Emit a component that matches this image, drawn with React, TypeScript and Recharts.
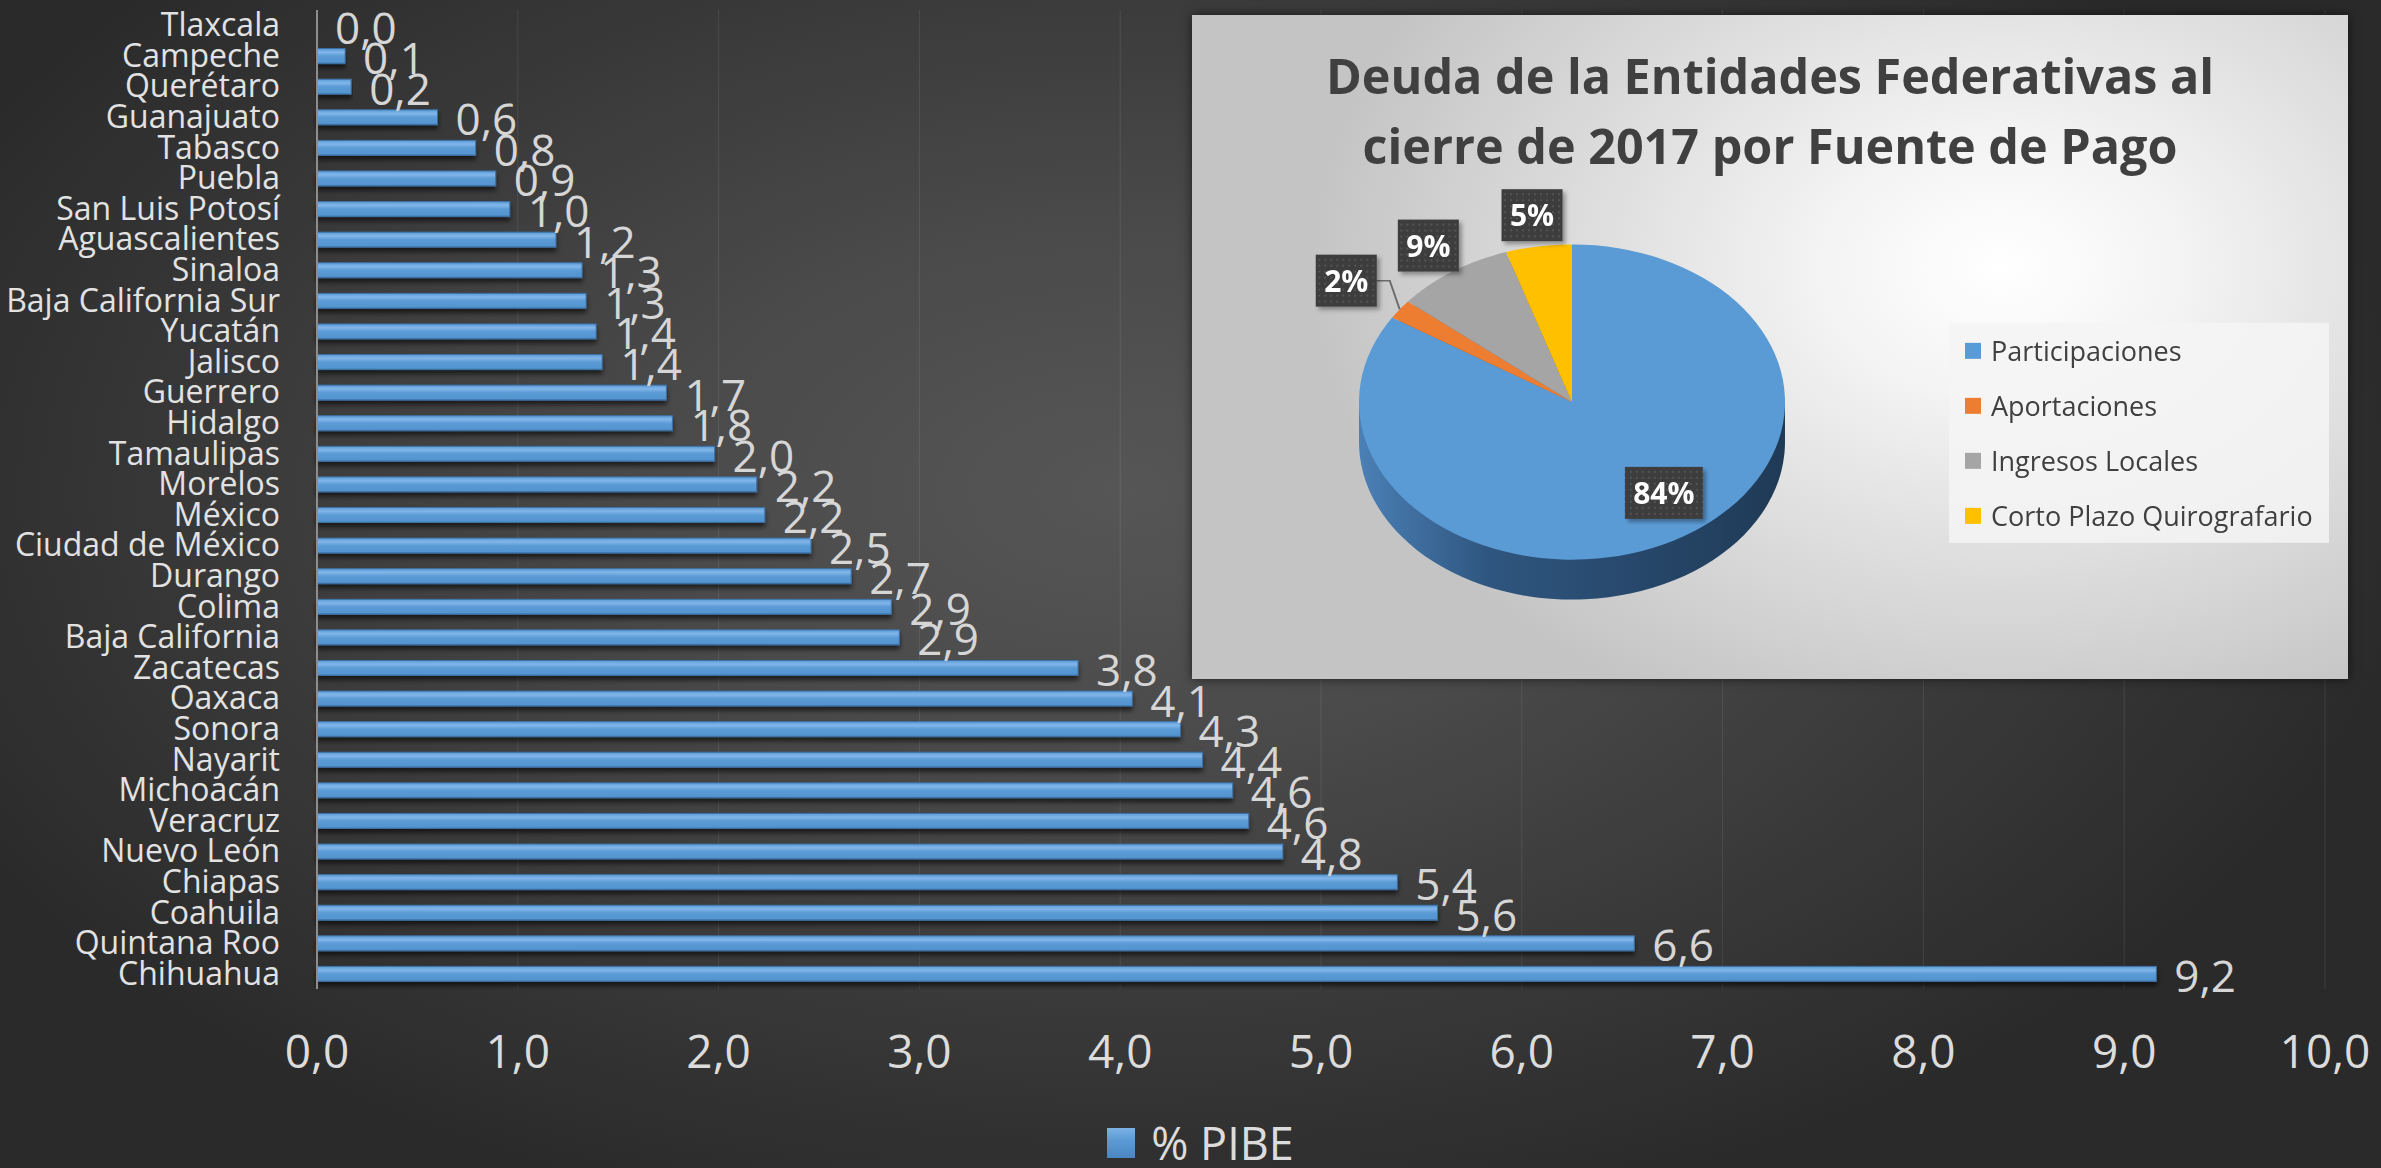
import React from 'react';
import {
  Bar,
  BarChart,
  CartesianGrid,
  Cell,
  LabelList,
  Legend,
  Pie,
  PieChart,
  XAxis,
  YAxis,
} from 'recharts';

// % del PIB estatal, de arriba hacia abajo
const states = [
  'Tlaxcala', 'Campeche', 'Querétaro', 'Guanajuato', 'Tabasco', 'Puebla',
  'San Luis Potosí', 'Aguascalientes', 'Sinaloa', 'Baja California Sur',
  'Yucatán', 'Jalisco', 'Guerrero', 'Hidalgo', 'Tamaulipas', 'Morelos',
  'México', 'Ciudad de México', 'Durango', 'Colima', 'Baja California',
  'Zacatecas', 'Oaxaca', 'Sonora', 'Nayarit', 'Michoacán', 'Veracruz',
  'Nuevo León', 'Chiapas', 'Coahuila', 'Quintana Roo', 'Chihuahua',
];
const pibe = [
  0, 0.14, 0.17, 0.6, 0.79, 0.89, 0.96, 1.19, 1.32, 1.34, 1.39, 1.42,
  1.74, 1.77, 1.98, 2.19, 2.23, 2.46, 2.66, 2.86, 2.9, 3.79, 4.06, 4.3,
  4.41, 4.56, 4.64, 4.81, 5.38, 5.58, 6.56, 9.16,
];
const xTicks = [0, 1, 2, 3, 4, 5, 6, 7, 8, 9, 10];

const sources = ['Participaciones', 'Aportaciones', 'Ingresos Locales', 'Corto Plazo Quirografario'];
const shares = [84, 2, 9, 5];
const sourceColors = ['#5b9bd5', '#ed7d31', '#a5a5a5', '#ffc000'];
const sideColors = ['url(#sideBlue)', '#9c4f1c', '#6b6b6b', '#a67c00'];

const FONT = "'Open Sans', 'Noto Sans', sans-serif";
const TILT = 0.74;
const SIDE_STEPS = [54, 40, 27, 14];

const barData = states.map((s, i) => ({ state: s, pibe: pibe[i] }));
const pieData = sources.map((s, i) => ({ name: s, value: shares[i] }));

const fmt = (v: number) => v.toFixed(1).replace('.', ',');

function YTick({ x, y, payload }: any) {
  return (
    <text x={x} y={y} dy={11} textAnchor="end" fill="#e2e2e2" fontSize={32} fontFamily={FONT}>
      {payload.value}
    </text>
  );
}

function XTick({ x, y, payload }: any) {
  return (
    <text x={x} y={y} dy={79} textAnchor="middle" fill="#dcdcdc" fontSize={46} fontFamily={FONT}>
      {fmt(payload.value)}
    </text>
  );
}

function ValueLabel(props: any) {
  const { x, y, width, height, value } = props;
  return (
    <text x={x + width + 18} y={y + height / 2 + 18} fill="#d6d6d6" fontSize={44} fontFamily={FONT}>
      {fmt(value)}
    </text>
  );
}

function BarShape(props: any) {
  const { x, y, width, height } = props;
  if (!width || width <= 0) return null;
  return (
    <rect
      x={x}
      y={y}
      width={width}
      height={height}
      fill="url(#barGrad)"
      stroke="#3f72a6"
      strokeWidth={1}
      filter="url(#barShadow)"
    />
  );
}

function PibeLegend({ payload }: any) {
  const item = payload && payload[0];
  return (
    <div
      style={{
        height: 50,
        display: 'flex',
        justifyContent: 'center',
        alignItems: 'center',
        gap: 16,
        paddingLeft: 76,
      }}
    >
      <div
        style={{
          width: 28,
          height: 30,
          background: 'linear-gradient(#7db2e6, #5b9bd5 40%, #4a86c2)',
        }}
      />
      <span style={{ fontFamily: FONT, fontSize: 45, color: '#dcdcdc', lineHeight: '50px' }}>
        {item ? item.value : '% PIBE'}
      </span>
    </div>
  );
}

function SourceLegend({ payload }: any) {
  const seen = new Set<string>();
  const items = (payload || [])
    .filter((p: any) => {
      if (p.type === 'none' || !sourceColors.includes(p.color) || seen.has(p.value)) return false;
      seen.add(p.value);
      return true;
    })
    .sort((a: any, b: any) => sources.indexOf(a.value) - sources.indexOf(b.value));
  return (
    <div style={{ background: 'rgba(244,244,244,0.85)', width: 380, height: 220 }}>
      {items.map((p: any) => (
        <div key={p.value} style={{ height: 55, display: 'flex', alignItems: 'center' }}>
          <div style={{ width: 16, height: 16, background: p.color, marginLeft: 16, marginRight: 10 }} />
          <span style={{ fontFamily: FONT, fontSize: 27, color: '#404040' }}>{p.value}</span>
        </div>
      ))}
    </div>
  );
}

function PieLabel(props: any) {
  const { cx, cy, midAngle, outerRadius, value } = props;
  const rad = Math.PI / 180;
  const inside = value > 50;
  const small = value < 3;
  const r = inside ? outerRadius * 0.72 : outerRadius * (small ? 1.31 : 1.2);
  const ang = midAngle + (inside ? 8 : 0);
  const lx = cx + r * Math.cos(-ang * rad);
  const ly = cy + r * Math.sin(-ang * rad);
  const w = inside ? 78 : 61;
  const h = 52;
  const ex = cx + outerRadius * Math.cos(-midAngle * rad);
  const ey = cy + outerRadius * Math.sin(-midAngle * rad);
  return (
    <g>
      {small && (
        <polyline
          points={`${lx + w / 2},${ly} ${lx + w / 2 + 13},${ly} ${ex},${ey}`}
          fill="none"
          stroke="#6b6b6b"
          strokeWidth={2}
        />
      )}
      <g transform={`translate(${lx},${ly}) scale(1,${1 / TILT})`}>
        <rect x={-w / 2} y={-h / 2} width={w} height={h} fill="url(#dots)" filter="url(#lblShadow)" />
        <text x={0} y={11} textAnchor="middle" fill="#ffffff" fontSize={30} fontWeight={700} fontFamily={FONT}>
          {value}%
        </text>
      </g>
    </g>
  );
}

export default function App() {
  return (
    <div
      style={{
        position: 'absolute',
        left: 0,
        top: 0,
        width: 2381,
        height: 1168,
        overflow: 'hidden',
        background:
          'radial-gradient(ellipse 55% 65% at 47% 42%, #565656 0%, #4a4a4a 35%, #363636 75%, #2a2a2a 100%)',
      }}
    >
      <BarChart
        width={2381}
        height={1168}
        data={barData}
        layout="vertical"
        margin={{ top: 10, right: 56, bottom: 0, left: 0 }}
        barSize={15}
      >
        <defs>
          <linearGradient id="barGrad" x1="0" y1="0" x2="0" y2="1">
            <stop offset="0%" stopColor="#5a9ad6" />
            <stop offset="25%" stopColor="#82b6ea" />
            <stop offset="50%" stopColor="#5b9bd5" />
            <stop offset="90%" stopColor="#5495d1" />
            <stop offset="100%" stopColor="#3d70a3" />
          </linearGradient>
          <filter id="barShadow" x="-5%" y="-50%" width="110%" height="250%">
            <feDropShadow dx="0" dy="4" stdDeviation="2.5" floodColor="#000" floodOpacity="0.6" />
          </filter>
        </defs>
        <CartesianGrid horizontal={false} stroke="rgba(255,255,255,0.09)" />
        <XAxis
          type="number"
          domain={[0, 10]}
          ticks={xTicks}
          interval={0}
          height={129}
          tickLine={false}
          axisLine={false}
          tickSize={0}
          tickMargin={0}
          tick={(p: any) => <XTick {...p} />}
        />
        <YAxis
          type="category"
          dataKey="state"
          width={317}
          interval={0}
          tickLine={false}
          tickSize={0}
          tickMargin={37}
          axisLine={{ stroke: '#8d8d8d', strokeWidth: 2 }}
          tick={(p: any) => <YTick {...p} />}
        />
        <Legend verticalAlign="bottom" content={(p: any) => <PibeLegend {...p} />} />
        <Bar dataKey="pibe" name="% PIBE" fill="#5b9bd5" isAnimationActive={false} shape={(p: any) => <BarShape {...p} />}>
          <LabelList dataKey="pibe" content={(p: any) => <ValueLabel {...p} />} />
        </Bar>
      </BarChart>

      <div
        style={{
          position: 'absolute',
          left: 1192,
          top: 15,
          width: 1156,
          height: 664,
          overflow: 'hidden',
          background:
            'radial-gradient(ellipse 60% 75% at 70% 38%, #ffffff 0%, #f4f4f4 25%, #dadada 65%, #c4c4c4 100%)',
          boxShadow: '0 0 10px rgba(0,0,0,0.6)',
        }}
      >
        <div
          style={{
            position: 'absolute',
            left: 0,
            top: 25,
            width: 1156,
            textAlign: 'center',
            fontFamily: FONT,
            fontWeight: 700,
            fontSize: 48.5,
            lineHeight: '70px',
            color: '#404040',
          }}
        >
          <div>Deuda de la Entidades Federativas al</div>
          <div>cierre de 2017 por Fuente de Pago</div>
        </div>
        <div
          style={{
            position: 'absolute',
            left: 0,
            top: 0,
            width: 1156,
            height: 897,
            transform: `scaleY(${TILT})`,
            transformOrigin: '0 0',
          }}
        >
          <PieChart width={1156} height={897} margin={{ top: 0, right: 0, bottom: 0, left: 0 }}>
            <defs>
              <linearGradient id="sideBlue" x1="0" y1="0" x2="1" y2="0">
                <stop offset="0%" stopColor="#4b80b6" />
                <stop offset="30%" stopColor="#2f5680" />
                <stop offset="100%" stopColor="#1f3a56" />
              </linearGradient>
              <pattern id="dots" width="6" height="6" patternUnits="userSpaceOnUse">
                <rect width="6" height="6" fill="#3e3e3e" />
                <circle cx="3" cy="3" r="0.9" fill="#5c5c5c" />
              </pattern>
              <filter id="lblShadow" x="-20%" y="-20%" width="150%" height="150%">
                <feDropShadow dx="3" dy="3" stdDeviation="2" floodColor="#000" floodOpacity="0.35" />
              </filter>
            </defs>
            {SIDE_STEPS.map((off) => (
              <Pie
                key={off}
                data={pieData}
                dataKey="value"
                nameKey="name"
                cx={380}
                cy={523 + off}
                outerRadius={213}
                startAngle={90}
                endAngle={-270}
                stroke="none"
                legendType="none"
                isAnimationActive={false}
              >
                {pieData.map((d, i) => (
                  <Cell key={d.name} fill={sideColors[i]} />
                ))}
              </Pie>
            ))}
            <Pie
              data={pieData}
              dataKey="value"
              nameKey="name"
              cx={380}
              cy={523}
              outerRadius={213}
              startAngle={90}
              endAngle={-270}
              stroke="none"
              label={(p: any) => <PieLabel {...p} />}
              labelLine={false}
              isAnimationActive={false}
            >
              {pieData.map((d, i) => (
                <Cell key={d.name} fill={sourceColors[i]} />
              ))}
            </Pie>
            <Legend
              layout="vertical"
              align="right"
              verticalAlign="top"
              content={(p: any) => <SourceLegend {...p} />}
              wrapperStyle={{
                left: 757,
                top: 416,
                width: 380,
                transform: `scaleY(${1 / TILT})`,
                transformOrigin: '0 0',
              }}
            />
          </PieChart>
        </div>
      </div>
    </div>
  );
}
